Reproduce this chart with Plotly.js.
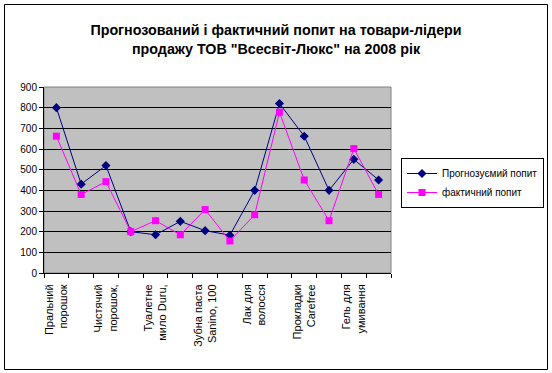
<!DOCTYPE html>
<html>
<head>
<meta charset="utf-8">
<script src="https://cdn.plot.ly/plotly-3.0.1.min.js"></script>
<style>html,body{margin:0;padding:0;background:#fff;}#chart{width:552px;height:373px;}</style>
</head>
<body>
<div id="chart"></div>
<script>
// Categories (only every other label is shown in the reference; hidden ones left blank)
const categories = [
  "Пральний<br>порошок", "",
  "Чистячий<br>порошок,", "",
  "Туалетне<br>мило Duru,", "",
  "Зубна паста<br>Sanino, 100", "",
  "Лак для<br>волосся", "",
  "Прокладки<br>Carefree", "",
  "Гель для<br>умивання", ""
];
const forecastName = "Прогнозуємий попит";
const actualName = "фактичний попит";
const forecast = [800, 430, 520, 200, 185, 250, 205, 183, 400, 820, 662, 400, 550, 450];
const actual   = [662, 380, 442, 200, 253, 185, 307, 155, 282, 778, 450, 253, 602, 380];
const titleText = 'Прогнозований і фактичний попит на товари-лідери<br>продажу ТОВ "Всесвіт-Люкс" на 2008 рік';

const idx = categories.map((c, i) => i);
const labelIdx = idx.filter(i => categories[i] !== "");
const boundaries = idx.map(i => i - 0.5).concat([categories.length - 0.5]);

const W = 552, H = 373;
const m = {l: 44, r: 161, t: 87, b: 100};
const pw = W - m.l - m.r, ph = H - m.t - m.b;
const px = x => (x - m.l) / pw;
const py = y => (H - m.b - y) / ph;

const font = "Liberation Sans, Arial, sans-serif";

const traces = [
  {
    x: idx, y: forecast, name: forecastName, type: 'scatter', mode: 'lines+markers',
    line: {color: '#000080', width: 1},
    marker: {symbol: 'diamond', size: 7, color: '#000080'}
  },
  {
    x: idx, y: actual, name: actualName, type: 'scatter', mode: 'lines+markers',
    line: {color: '#FF00FF', width: 1},
    marker: {symbol: 'square', size: 7, color: '#FF00FF'}
  }
];

const layout = {
  width: W, height: H,
  margin: Object.assign({autoexpand: false}, m),
  paper_bgcolor: '#ffffff',
  plot_bgcolor: '#C0C0C0',
  font: {family: font, size: 10, color: '#000'},
  title: {
    text: '<b>' + titleText + '</b>',
    font: {family: font, size: 14.3, color: '#000'},
    x: 0.5, xref: 'container', xanchor: 'center',
    y: 1 - 35 / H, yref: 'container', yanchor: 'middle'
  },
  showlegend: true,
  legend: {
    xref: 'container', yref: 'container',
    x: 401 / W, y: 1 - 158 / H, xanchor: 'left', yanchor: 'top',
    bordercolor: '#000', borderwidth: 1, bgcolor: '#fff',
    font: {family: font, size: 10, color: '#000'},
    tracegroupgap: 2, itemwidth: 30
  },
  xaxis: {
    range: [-0.5, categories.length - 0.5],
    tickmode: 'array', tickvals: labelIdx, ticktext: labelIdx.map(i => categories[i]),
    tickangle: -90,
    ticks: 'outside', ticklen: 6, tickcolor: 'rgba(0,0,0,0)',
    minor: {tickmode: 'array', tickvals: boundaries, ticks: 'outside', ticklen: 4, tickcolor: '#000', showgrid: false},
    showline: true, linecolor: '#000', linewidth: 1,
    showgrid: false, zeroline: false,
    tickfont: {family: font, size: 11, color: '#000'},
    fixedrange: true
  },
  yaxis: {
    range: [0, 900], dtick: 100, tick0: 0,
    ticks: 'outside', ticklen: 4, tickcolor: '#000',
    showline: true, linecolor: '#000', linewidth: 1,
    showgrid: true, gridcolor: '#000', gridwidth: 1,
    zeroline: false,
    tickfont: {family: font, size: 10, color: '#000'},
    fixedrange: true
  },
  shapes: [
    {type: 'rect', xref: 'paper', yref: 'paper', x0: 0, x1: 1, y0: 0, y1: 1,
     line: {color: '#808080', width: 1}, layer: 'below'},
    {type: 'rect', xref: 'paper', yref: 'paper', x0: px(4.5), x1: px(547.5), y0: py(4.5), y1: py(369.5),
     line: {color: '#000', width: 1}, fillcolor: 'rgba(0,0,0,0)'}
  ]
};

Plotly.newPlot('chart', traces, layout, {displayModeBar: false, staticPlot: true});
</script>
</body>
</html>
